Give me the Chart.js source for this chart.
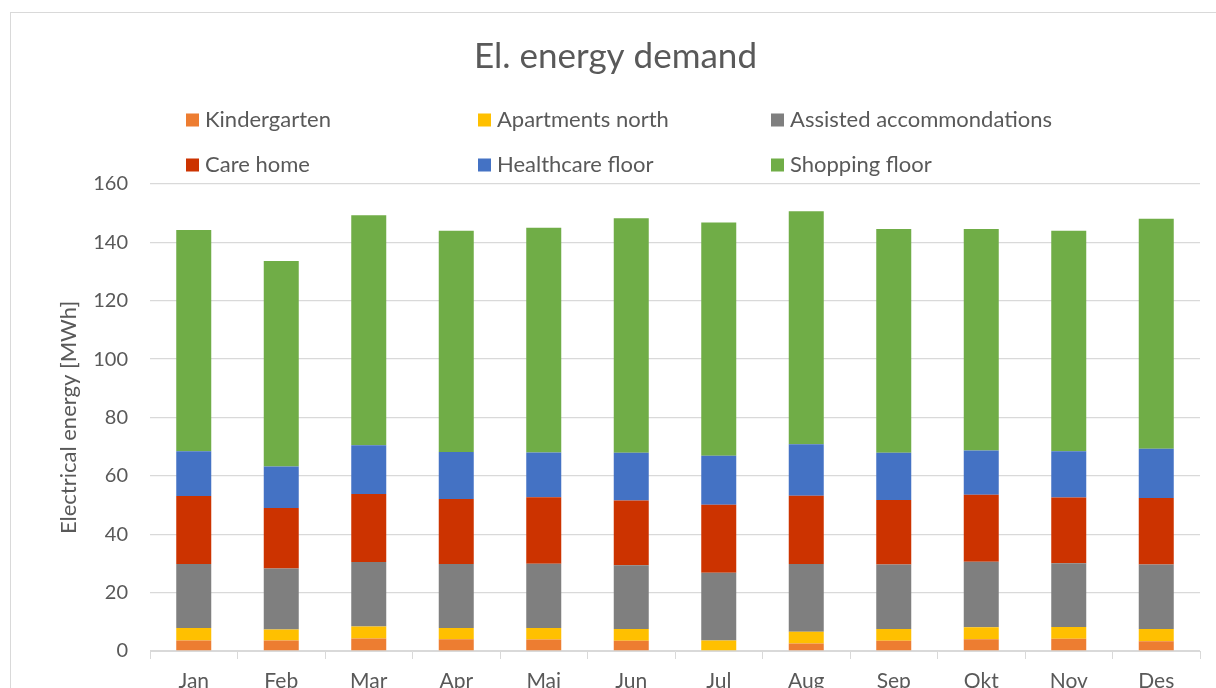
<!DOCTYPE html>
<html>
<head>
<meta charset="utf-8">
<script src="https://cdn.jsdelivr.net/npm/chart.js@4/dist/chart.umd.min.js"></script>
<style>
  html, body { margin: 0; padding: 0; background: #fff; overflow: hidden; }
  #frame { position: absolute; left: 10px; top: 12px; width: 1300px; height: 800px; border: 1px solid #d9d9d9; box-sizing: border-box; }
  #chart { position: absolute; left: 0; top: 0; }
</style>
</head>
<body>
<div id="frame"></div>
<canvas id="chart" width="1216" height="701"></canvas>
<script>
const months = ['Jan', 'Feb', 'Mar', 'Apr', 'Mai', 'Jun', 'Jul', 'Aug', 'Sep', 'Okt', 'Nov', 'Des'];
const kindergarten = [3.6, 3.6, 4.3, 4.0, 3.9, 3.5, 0, 2.6, 3.5, 4.0, 4.2, 3.3];
const apartmentsNorth = [4.3, 3.8, 4.1, 3.9, 4.0, 4.0, 3.6, 4.0, 4.0, 4.1, 4.0, 4.2];
const assistedAcc = [21.9, 20.9, 22.1, 21.9, 22.0, 21.9, 23.2, 23.2, 22.1, 22.5, 21.9, 22.1];
const careHome = [23.3, 20.7, 23.3, 22.3, 22.8, 22.2, 23.3, 23.4, 22.1, 22.9, 22.5, 22.8];
const healthcareFloor = [15.3, 14.2, 16.7, 16.1, 15.3, 16.3, 16.8, 17.6, 16.2, 15.2, 15.8, 16.9];
const shoppingFloor = [75.8, 70.4, 78.8, 75.8, 77.0, 80.4, 79.9, 79.9, 76.7, 75.9, 75.6, 78.8];
const yTicks = [0, 20, 40, 60, 80, 100, 120, 140, 160];

const textColor = '#595959';
const fontFamily = 'Lato, "Open Sans", sans-serif';

const makeSet = (label, data, color) => ({
  label,
  data,
  backgroundColor: color,
  borderWidth: 0,
  categoryPercentage: 1,
  barPercentage: 0.4,
});

// Excel-style legend: 3 columns x 2 rows above the plot
const gridLegend = {
  id: 'gridLegend',
  afterDraw(chart) {
    const ctx = chart.ctx;
    const cols = [205, 497, 790];
    const rows = [120, 165];
    ctx.save();
    ctx.font = '22px ' + fontFamily;
    ctx.textBaseline = 'middle';
    ctx.textAlign = 'left';
    chart.data.datasets.forEach((ds, i) => {
      const x = cols[i % 3];
      const y = rows[Math.floor(i / 3)];
      ctx.fillStyle = ds.backgroundColor;
      ctx.fillRect(x - 19, y - 6.5, 13, 13);
      ctx.fillStyle = textColor;
      ctx.fillText(ds.label, x, y);
    });
    ctx.restore();
  },
};

document.addEventListener('DOMContentLoaded', () => {
  new Chart(document.getElementById('chart').getContext('2d'), {
    type: 'bar',
    data: {
      labels: months,
      datasets: [
        makeSet('Kindergarten', kindergarten, '#ED7D31'),
        makeSet('Apartments north', apartmentsNorth, '#FFC000'),
        makeSet('Assisted accommondations', assistedAcc, '#7F7F7F'),
        makeSet('Care home', careHome, '#CC3300'),
        makeSet('Healthcare floor', healthcareFloor, '#4472C4'),
        makeSet('Shopping floor', shoppingFloor, '#70AD47'),
      ],
    },
    options: {
      responsive: false,
      animation: false,
      devicePixelRatio: 1,
      layout: { padding: { left: 31, right: 16, top: 0, bottom: 0 } },
      plugins: {
        legend: { display: false },
        tooltip: { enabled: false },
        title: {
          display: true,
          text: 'El. energy demand',
          color: textColor,
          font: { family: fontFamily, size: 35, weight: 'normal' },
          padding: { top: 36, bottom: 106 },
        },
      },
      scales: {
        x: {
          stacked: true,
          afterFit: (s) => { s.height = 50; },
          grid: {
            offset: true,
            drawOnChartArea: false,
            drawTicks: true,
            tickLength: 8,
            color: '#d9d9d9',
          },
          border: { display: true, color: '#d9d9d9', width: 1 },
          ticks: {
            color: textColor,
            padding: 10,
            font: { family: fontFamily, size: 21 },
          },
        },
        y: {
          stacked: true,
          min: 0,
          max: 160,
          afterFit: (s) => { s.width = 119; },
          afterBuildTicks: (s) => { s.ticks = yTicks.map(v => ({ value: v })); },
          grid: { color: '#d9d9d9', lineWidth: 1.3, drawTicks: false },
          border: { display: false },
          ticks: {
            color: textColor,
            padding: 22,
            font: { family: fontFamily, size: 20 },
          },
          title: {
            display: true,
            text: 'Electrical energy [MWh]',
            color: textColor,
            font: { family: fontFamily, size: 22 },
            padding: { top: 25, bottom: 0 },
          },
        },
      },
    },
    plugins: [gridLegend],
  });
});
</script>
</body>
</html>
